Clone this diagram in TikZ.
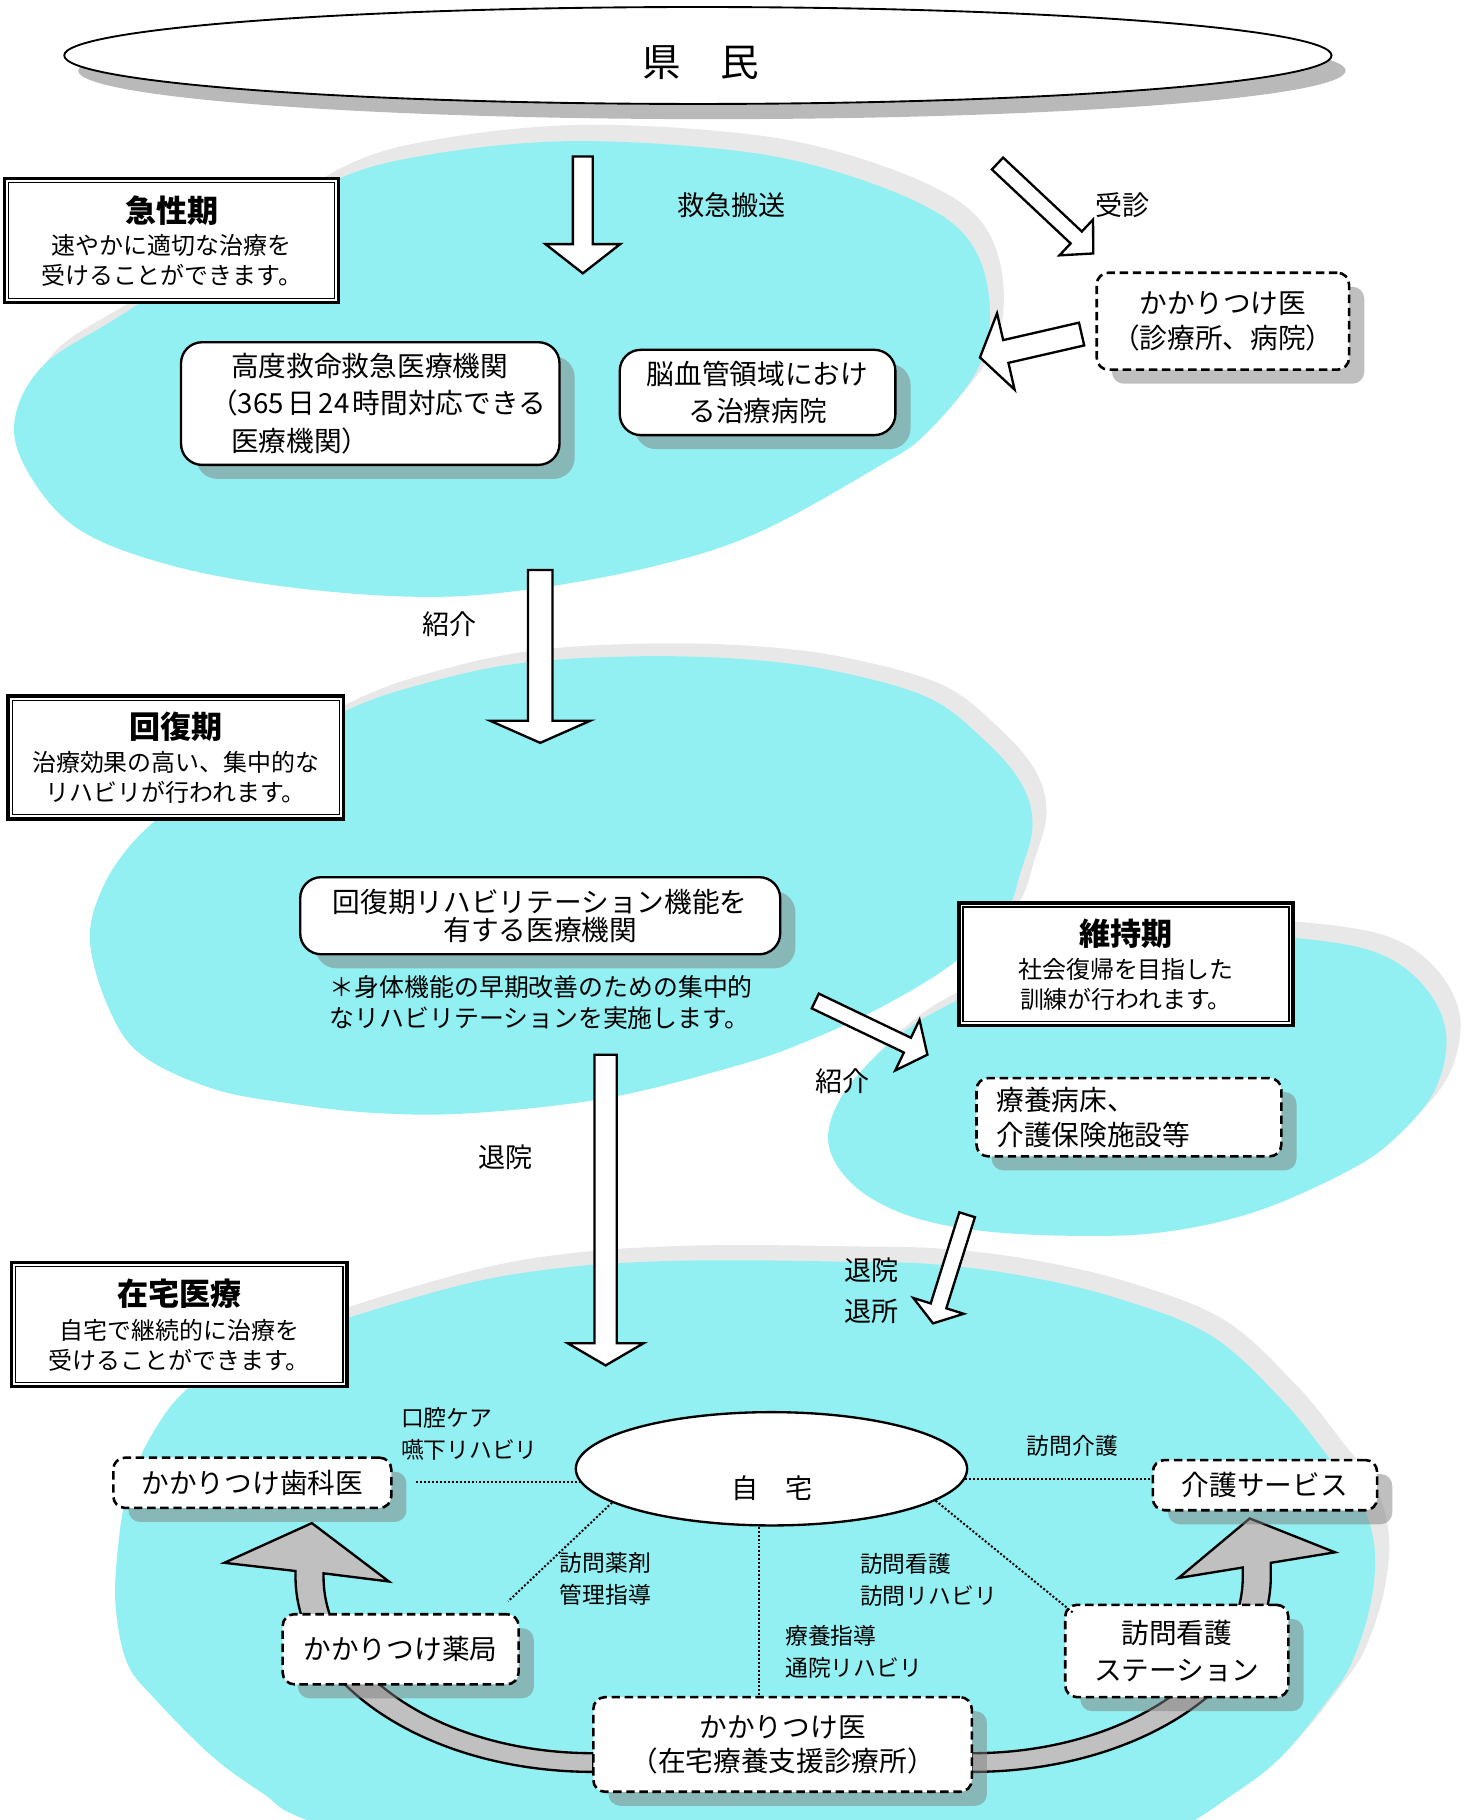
\documentclass[tikz,border=0pt]{standalone}
\usepackage{fontspec}
\setmainfont{Noto Sans CJK JP}
\newfontfamily\jp{Noto Sans CJK JP}
\usetikzlibrary{calc,shapes.geometric,shadows}

\definecolor{blobcyan}{RGB}{146,240,242}
\definecolor{blobshadow}{RGB}{232,232,232}
\definecolor{kenshadow}{RGB}{185,185,185}
\definecolor{arrowgray}{RGB}{192,192,192}

\tikzset{
  blob/.style={fill=blobcyan},
  blobsh/.style={fill=blobshadow},
  boxshadow/.style={drop shadow={shadow xshift=6.5pt, shadow yshift=-6pt, fill=black!50, opacity=0.5}},
  solidbox/.style={draw=black, line width=1pt, rounded corners=9pt, fill=white, inner sep=0pt, boxshadow},
  dashbox/.style={draw=black, line width=1.1pt, dash pattern=on 3.6pt off 2pt, rounded corners=5pt, fill=white, inner sep=0pt, boxshadow},
  titlebox/.style={draw=black, line width=1.5pt, fill=white, inner sep=0pt},
  kenell/.style={draw=black, line width=0.8pt, ellipse, fill=white, inner sep=0pt, minimum width=542.5pt, minimum height=41.5pt,
     drop shadow={shadow xshift=6pt, shadow yshift=-6.5pt, fill=kenshadow, opacity=1}},
  homeell/.style={draw=black, line width=1pt, ellipse, fill=white, inner sep=0pt, minimum width=167.5pt, minimum height=48.5pt},
  whitearrow/.style={draw=black, line width=1pt, fill=white},
  grayarrow/.style={draw=black, line width=1pt, fill=arrowgray},
  dotline/.style={line width=0.85pt, dash pattern=on 0.85pt off 0.85pt},
  kenfont/.style={inner sep=0pt, font=\jp\fontsize{16.5pt}{20pt}\selectfont},
  ttl/.style={inner sep=0pt, font=\jp\bfseries\fontsize{13.3pt}{16pt}\selectfont},
  subt/.style={inner sep=0pt, align=center, font=\jp\fontsize{10.25pt}{12.75pt}\selectfont},
  lbl/.style={inner sep=0pt, align=center, font=\jp\fontsize{11.6pt}{17.25pt}\selectfont},
  slbl/.style={inner sep=0pt, align=left, anchor=west, font=\jp\fontsize{9.75pt}{13.75pt}\selectfont},
  slblc/.style={inner sep=0pt, align=center, font=\jp\fontsize{9.75pt}{13.75pt}\selectfont},
  notetxt/.style={inner sep=0pt, align=left, anchor=west, font=\jp\fontsize{10.65pt}{13.35pt}\selectfont},
}

% block arrow: #1 tail, #2 tip, #3 shaft half width, #4 head half width, #5 head length
\newcommand\blkarrow[5]{%
  \coordinate (ba-h) at ($(#2)!#5!(#1)$);
  \draw[whitearrow] ($(#1)!#3!90:(#2)$) -- ($(ba-h)!#3!-90:(#1)$) -- ($(ba-h)!#4!-90:(#1)$)
     -- (#2) -- ($(ba-h)!#4!90:(#1)$) -- ($(ba-h)!#3!90:(#1)$) -- ($(#1)!#3!-90:(#2)$) -- cycle;
}
\newcommand\innerframe[1]{%
  \draw[line width=0.6pt] ($(#1.north west)+(2.5pt,-2.5pt)$) rectangle ($(#1.south east)+(-2.5pt,2.5pt)$);
}

\begin{document}
\begin{tikzpicture}[x=0.5pt,y=-0.5pt]
\useasboundingbox (0,0) rectangle (1265.4,1558.2);
\clip (0,0) rectangle (1265.4,1558.2);

% ---------- top ellipse ----------
\node[kenell] (kenmin) at (597.5,47.5) {};
\node[kenfont] (kenmint) at (600,54) {県　民};

% ---------- blobs ----------
% acute
\fill[blobsh, shift={(12,-14)}] plot[smooth cycle, tension=0.6] coordinates {(481,121) (601,126) (691,140) (781,171) (829,205) (847,257) (838,314) (793,371) (751,400) (649,456) (559,485) (450,505) (360,511) (250,503) (150,485) (72,456) (30,414) (12,365) (36,314) (102,271) (198,210) (288,154) (370,132)};
\fill[blob] plot[smooth cycle, tension=0.6] coordinates {(481,121) (601,126) (691,140) (781,171) (829,205) (847,257) (838,314) (793,371) (751,400) (649,456) (559,485) (450,505) (360,511) (250,503) (150,485) (72,456) (30,414) (12,365) (36,314) (102,271) (198,210) (288,154) (370,132)};
% recovery
\fill[blobsh, shift={(12,-11)}] plot[smooth cycle, tension=0.6] coordinates {(444,568) (540,562) (632,564) (712,574) (794,597) (842,633) (874,670) (884,706) (874,746) (858,787) (813,827) (753,863) (692,891) (632,912) (520,940) (404,953) (323,953) (250,945) (182,932) (121,903) (93,863) (77,806) (87,762) (113,722) (150,690) (202,661) (295,609) (364,585)};
\fill[blob] plot[smooth cycle, tension=0.6] coordinates {(444,568) (540,562) (632,564) (712,574) (794,597) (842,633) (874,670) (884,706) (874,746) (858,787) (813,827) (753,863) (692,891) (632,912) (520,940) (404,953) (323,953) (250,945) (182,932) (121,903) (93,863) (77,806) (87,762) (113,722) (150,690) (202,661) (295,609) (364,585)};
% maintenance
\fill[blobsh, shift={(12,-13)}] plot[smooth cycle, tension=0.6] coordinates {(822,855) (880,826) (960,808) (1040,801) (1109,803) (1177,815) (1218,843) (1238,884) (1229,932) (1197,972) (1157,1001) (1076,1037) (995,1055) (915,1058) (834,1053) (773,1039) (729,1013) (709,976) (725,932) (773,884)};
\fill[blob] plot[smooth cycle, tension=0.6] coordinates {(822,855) (880,826) (960,808) (1040,801) (1109,803) (1177,815) (1218,843) (1238,884) (1229,932) (1197,972) (1157,1001) (1076,1037) (995,1055) (915,1058) (834,1053) (773,1039) (729,1013) (709,976) (725,932) (773,884)};
% home
\fill[blobsh, shift={(12,-13)}] plot[smooth cycle, tension=0.6] coordinates {(634,1079) (712,1080) (794,1082) (874,1092) (955,1111) (1036,1143) (1097,1198) (1137,1247) (1165,1285) (1177,1327) (1173,1375) (1157,1424) (1137,1455) (1097,1504) (1056,1536) (1000,1570) (900,1605) (640,1620) (400,1605) (262,1558) (226,1536) (182,1504) (133,1455) (109,1424) (99,1375) (101,1325) (109,1278) (129,1230) (162,1188) (222,1156) (299,1128) (404,1098) (485,1085) (560,1080)};
\fill[blob] plot[smooth cycle, tension=0.6] coordinates {(634,1079) (712,1080) (794,1082) (874,1092) (955,1111) (1036,1143) (1097,1198) (1137,1247) (1165,1285) (1177,1327) (1173,1375) (1157,1424) (1137,1455) (1097,1504) (1056,1536) (1000,1570) (900,1605) (640,1620) (400,1605) (262,1558) (226,1536) (182,1504) (133,1455) (109,1424) (99,1375) (101,1325) (109,1278) (129,1230) (162,1188) (222,1156) (299,1128) (404,1098) (485,1085) (560,1080)};

% ---------- gray curved arrows ----------
\draw[grayarrow] (508,1517) arc[start angle=270, end angle=180, x radius=127.5pt, y radius=83.5pt]
  -- (253,1345) -- (192,1338) -- (267,1304) -- (333,1354) -- (277,1347) -- (277,1350)
  arc[start angle=180, end angle=270, x radius=115.5pt, y radius=75.5pt] -- cycle;
\draw[grayarrow] (832,1517) arc[start angle=270, end angle=360, x radius=128pt, y radius=83.5pt]
  -- (1088,1338) -- (1143,1329) -- (1070,1300) -- (1009,1351) -- (1064,1342) -- (1064,1350)
  arc[start angle=0, end angle=-90, x radius=116pt, y radius=75.5pt] -- cycle;

% ---------- white block arrows ----------
\coordinate (a1) at (499,134);   \coordinate (a2) at (499,234);
\coordinate (b1) at (854,140);   \coordinate (b2) at (936,217);
\coordinate (c1) at (926,286);   \coordinate (c2) at (839,306);
\coordinate (d1) at (462.5,488); \coordinate (d2) at (462.5,636);
\coordinate (e1) at (518.5,903); \coordinate (e2) at (518.5,1169);
\coordinate (f1) at (698,857);   \coordinate (f2) at (794,903);
\coordinate (g1) at (828,1040);  \coordinate (g2) at (798.8,1133);
\blkarrow{a1}{a2}{4.25pt}{16pt}{12.5pt}
\blkarrow{b1}{b2}{3.5pt}{10.5pt}{10pt}
\blkarrow{c1}{c2}{5pt}{16.75pt}{11.35pt}
\blkarrow{d1}{d2}{5.25pt}{21.5pt}{9.5pt}
\blkarrow{e1}{e2}{4.75pt}{16.25pt}{9.5pt}
\blkarrow{f1}{f2}{3.5pt}{12pt}{9.5pt}
\blkarrow{g1}{g2}{3.5pt}{11.3pt}{7.85pt}

% ---------- title boxes ----------
\node[titlebox, minimum width=143pt, minimum height=53pt] (kyusei) at (147,206) {};
\innerframe{kyusei}
\node[ttl] (kyuseit) at (147,180) {急性期};
\node[subt] (kyuseis) at (147,222.75) {速やかに適切な治療を\\受けることができます。};

\node[titlebox, minimum width=143.5pt, minimum height=52.5pt] (kaifuku) at (150.5,648.5) {};
\innerframe{kaifuku}
\node[ttl] (kaifukut) at (150.5,622) {回復期};
\node[subt] (kaifukus) at (150.5,665.5) {治療効果の高い、集中的な\\リハビリが行われます。};

\node[titlebox, minimum width=143pt, minimum height=52.5pt] (iji) at (964,825.5) {};
\innerframe{iji}
\node[ttl] (ijit) at (964,799) {維持期};
\node[subt] (ijis) at (964,843) {社会復帰を目指した\\訓練が行われます。};

\node[titlebox, minimum width=143.5pt, minimum height=53pt] (zaitaku) at (153.5,1134) {};
\innerframe{zaitaku}
\node[ttl] (zaitakut) at (153.5,1108) {在宅医療};
\node[subt] (zaitakus) at (153.5,1152) {自宅で継続的に治療を\\受けることができます。};

% ---------- content boxes ----------
\node[solidbox, minimum width=162pt, minimum height=52.5pt, text width=137pt, align=left,
      font=\jp\fontsize{11.85pt}{16pt}\selectfont] (koudo) at (317,345.5)
      {\hspace*{9pt}高度救命救急医療機関\\\mbox{（365\hspace{1.5pt}日\hspace{1.5pt}24\hspace{1.5pt}時間対応できる}\\\hspace*{9pt}医療機関）};
\node[solidbox, minimum width=118pt, minimum height=36.5pt, align=center,
      font=\jp\fontsize{11.85pt}{15.7pt}\selectfont] (nouketsu) at (648.6,336)
      {脳血管領域におけ\\る治療病院};
\node[dashbox, minimum width=108pt, minimum height=41.5pt, align=center,
      font=\jp\fontsize{11.85pt}{15.25pt}\selectfont] (kakari) at (1047,275)
      {かかりつけ医\\（診療所、病院）};
\node[solidbox, minimum width=205.5pt, minimum height=33pt, align=center,
      font=\jp\fontsize{11.85pt}{12pt}\selectfont] (kaireha) at (462.5,784)
      {回復期リハビリテーション機能を\\有する医療機関};
\node[notetxt] (note) at (282,858) {＊身体機能の早期改善のための集中的\\なリハビリテーションを実施します。};
\node[dashbox, minimum width=130.5pt, minimum height=33.5pt, text width=113.5pt, align=left,
      font=\jp\fontsize{11.85pt}{15pt}\selectfont] (ryouyou) at (966.5,956.5)
      {療養病床、\\介護保険施設等};

% ---------- home section ----------
\node[homeell] (jitaku) at (660.5,1257.5) {};
\node[lbl] (jitakut) at (661,1274) {自　宅};
\node[dashbox, minimum width=119pt, minimum height=21.5pt,
      font=\jp\fontsize{11.85pt}{14pt}\selectfont] (shika) at (216,1269.5) {かかりつけ歯科医};
\node[dashbox, minimum width=96pt, minimum height=21.5pt,
      font=\jp\fontsize{11.85pt}{14pt}\selectfont] (kaigo) at (1083,1271.5) {介護サービス};
\node[dashbox, minimum width=101pt, minimum height=30pt,
      font=\jp\fontsize{11.85pt}{14pt}\selectfont] (yakkyoku) at (343,1412) {かかりつけ薬局};
\node[dashbox, minimum width=95.5pt, minimum height=39.5pt, align=center,
      font=\jp\fontsize{11.85pt}{16pt}\selectfont] (station) at (1007.5,1413.5) {訪問看護\\ステーション};
\node[dashbox, minimum width=162pt, minimum height=40.5pt, align=center,
      font=\jp\fontsize{11.85pt}{14.5pt}\selectfont] (clinic) at (670,1493.5) {かかりつけ医\\（在宅療養支援診療所）};

% dotted connectors
\draw[dotline] ($(jitaku.184 -| shika.east)+(10pt,0)$) -- (jitaku.184);
\draw[dotline] (jitaku.-3) -- (jitaku.-3 -| kaigo.west);
\draw[dotline] (jitaku.192) -- ($(yakkyoku.north east)+(-5pt,5pt)$);
\coordinate (cl) at ($(clinic.north)+(-10pt,0)$);
\draw[dotline] (cl |- jitaku.south) -- (cl);
\draw[dotline] (jitaku.-11) -- ($(station.north west)+(4pt,-4pt)$);

% ---------- labels ----------
\node[lbl] (lkyukyu) at (626.5,176) {救急搬送};
\node[lbl] (ljushin) at (961,176) {受診};
\node[lbl] (lshoukai1) at (385,534) {紹介};
\node[lbl] (ltaiin1) at (433,991) {退院};
\node[lbl] (lshoukai2) at (721,926) {紹介};
\node[lbl] (ltaiin2) at (746,1105) {退院\\退所};
\node[slbl] (lkouku) at (343,1227.5) {口腔ケア\\嚥下リハビリ};
\node[slblc] (lhoumonkaigo) at (918,1238) {訪問介護};
\node[slbl] (lyakuzai) at (479,1352) {訪問薬剤\\管理指導};
\node[slbl] (lkango) at (736,1352.5) {訪問看護\\訪問リハビリ};
\node[slbl] (lryouyou) at (672,1414) {療養指導\\通院リハビリ};
\end{tikzpicture}
\end{document}
